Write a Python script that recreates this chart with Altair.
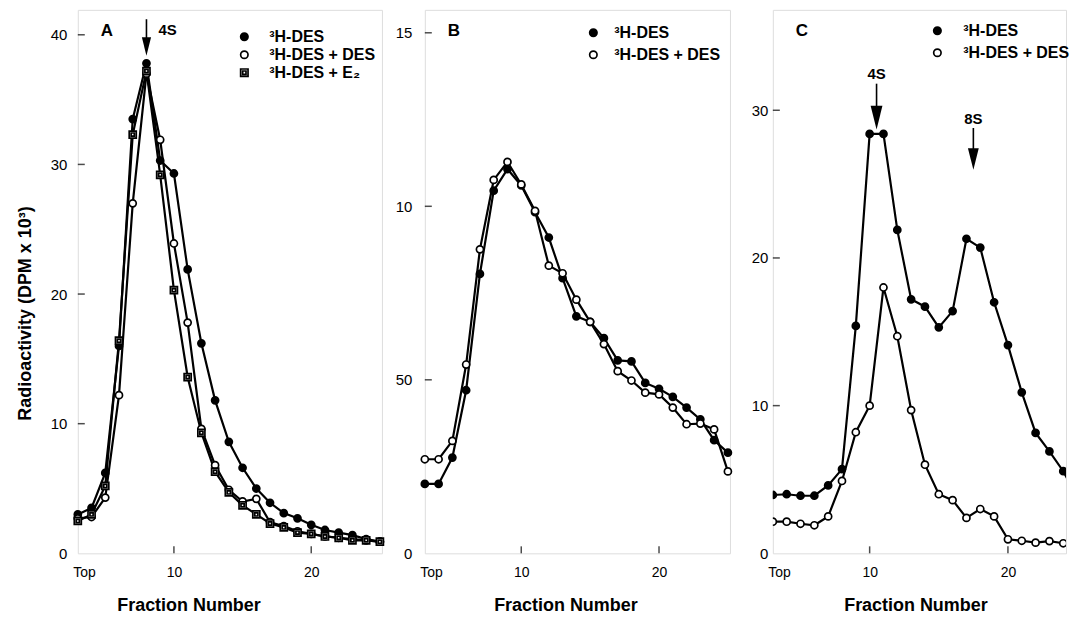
import altair as alt
import pandas as pd

FONT = "Liberation Sans"

fractions = list(range(3, 26))

a_des = [3.0, 3.5, 6.2, 16.0, 33.5, 37.8, 30.3, 29.3, 21.9, 16.2,
         11.8, 8.6, 6.6, 5.0, 3.9, 3.1, 2.7, 2.2, 1.8, 1.6, 1.4, 1.1, 0.9]
a_des_des = [2.7, 2.8, 4.3, 12.2, 27.0, 37.0, 31.9, 23.9, 17.8, 9.6,
             6.8, 4.9, 4.0, 4.2, 2.4, 2.1, 1.7, 1.5, 1.3, 1.2, 1.1, 1.0, 0.9]
a_des_e2 = [2.5, 3.0, 5.2, 16.4, 32.3, 37.2, 29.2, 20.3, 13.6, 9.3,
            6.3, 4.7, 3.7, 3.0, 2.3, 2.0, 1.6, 1.5, 1.3, 1.2, 1.0, 1.0, 0.9]

b_des = [2.0, 2.0, 2.76, 4.7, 8.05, 10.45, 11.07, 10.6, 9.83, 9.1,
         7.93, 6.83, 6.67, 6.2, 5.56, 5.53, 4.91, 4.74, 4.51, 4.2, 3.86, 3.26, 2.9]
b_des_des = [2.71, 2.71, 3.24, 5.44, 8.76, 10.76, 11.28, 10.63, 9.87, 8.29,
             8.07, 7.31, 6.67, 6.03, 5.25, 4.98, 4.63, 4.58, 4.2, 3.72, 3.74, 3.57, 2.36]

c_des = [3.95, 4.0, 3.9, 3.9, 4.6, 5.7, 15.4, 28.4, 28.4, 21.9,
         17.2, 16.7, 15.3, 16.4, 21.3, 20.7, 17.0, 14.1, 10.9, 8.15, 6.9, 5.56, 3.8]
c_des_des = [2.14, 2.14, 2.0, 1.9, 2.5, 4.9, 8.2, 10.0, 18.0, 14.7,
             9.7, 6.0, 4.0, 3.6, 2.4, 3.0, 2.5, 0.95, 0.85, 0.72, 0.83, 0.68, 0.68]

S1 = "³H-DES"
S2 = "³H-DES + DES"
S3 = "³H-DES + E₂"

x_ticks = [10, 20]
a_yticks = [0, 10, 20, 30, 40]
b_yticks = [0, 5, 10, 15]
c_yticks = [0, 10, 20, 30]

# arrows: fraction, shaft top, shaft end, head centre, head size, label, label y
a_arrows = {"fraction": [8], "top": [41.2], "end": [39.4], "head": [39.1], "hs": [340],
            "label": ["4S"], "ly": [40.0]}
c_arrows = {"fraction": [10.5, 17.5], "top": [31.8, 28.8], "end": [29.8, 26.9],
            "head": [29.5, 26.7], "hs": [560, 470], "label": ["4S", "8S"], "ly": [32.1, 29.1]}


def ring(r):
    return f"M{-r},0A{r},{r} 0 1,0 {r},0A{r},{r} 0 1,0 {-r},0Z"


HEAD = "M-0.5,-1L0.5,-1L0,1Z"
DOT = ring(1) + ring(0.55) + ring(0.15)        # solid-looking circle
OPEN = "circle"
BOX = "M-1,-1H1V1H-1Z M-0.45,-0.45H0.45V0.45H-0.45Z"   # heavy square
H = 545


def make_panel(letter, names, values, shapes, fills, px_per_unit, yticks, ylabel_expr,
               width, label_pad, y_title, title_x, leg_x, leg_y,
               leg_offset, leg_row_pad, arrows, arrow_dx, arrow_align, xmax, clip=False):
    rows = []
    for n, vals in zip(names, values):
        for f, v in zip(fractions, vals):
            rows.append({"fraction": f, "value": v, "series": n})
    df = pd.DataFrame(rows)

    xs = alt.Scale(domain=[3, xmax], nice=False, zero=False)
    ys = alt.Scale(domain=[0, H / px_per_unit], nice=False, zero=False)
    x_axis = alt.Axis(values=[3, 10, 20],
                      labelExpr="datum.value == 3 ? 'Top' : datum.label",
                      title="Fraction Number", ticks=False, domain=False, grid=False,
                      labelPadding=12, labelFontSize=14, labelFont=FONT, labelColor="black",
                      labelFlush=True, labelFlushOffset=5,
                      titleFontSize=18, titleFont=FONT, titleFontWeight="bold",
                      titleColor="black", titleX=title_x, titleY=57,
                      titleBaseline="alphabetic")
    y_kwargs = dict(values=yticks, ticks=False, domain=False, grid=False,
                    labelPadding=label_pad, labelFontSize=15, labelFont=FONT,
                    labelColor="black", labelFlush=False)
    if ylabel_expr:
        y_kwargs["labelExpr"] = ylabel_expr
    if y_title:
        y_kwargs.update(title=y_title, titleFontSize=18, titleFont=FONT,
                        titleFontWeight="bold", titleColor="black", titlePadding=16,
                        titleY=304)
    else:
        y_kwargs["title"] = None
    y_axis = alt.Axis(**y_kwargs)

    X = alt.X("fraction:Q", scale=xs, axis=x_axis)
    Y = alt.Y("value:Q", scale=ys, axis=y_axis)

    leg = alt.Legend(orient="none", legendX=leg_x, legendY=leg_y, title=None,
                     labelFont=FONT, labelFontSize=16, labelFontWeight="bold",
                     labelColor="black", symbolSize=55, symbolStrokeWidth=1.7,
                     symbolFillColor="white", labelOffset=leg_offset,
                     rowPadding=leg_row_pad, padding=0, labelLimit=300)

    lines = alt.Chart(df).mark_line(color="black", strokeWidth=2.2, clip=clip).encode(
        x=X, y=Y, detail="series:N")
    points = alt.Chart(df).mark_point(filled=False, color="black", strokeWidth=1.7,
                                      size=50, opacity=1, clip=clip).encode(
        x=X, y=Y,
        shape=alt.Shape("series:N", scale=alt.Scale(domain=names, range=shapes), legend=leg),
        fill=alt.Fill("series:N", scale=alt.Scale(domain=names, range=fills), legend=None),
    )

    xt = pd.DataFrame({"fraction": x_ticks, "value": [0] * len(x_ticks)})
    xtick_layer = alt.Chart(xt).mark_tick(orient="vertical", color="black", thickness=1.5,
                                          size=7, yOffset=-3.5).encode(x=X, y=Y)
    yt = pd.DataFrame({"fraction": [3] * (len(yticks) - 1), "value": yticks[1:]})
    ytick_layer = alt.Chart(yt).mark_tick(orient="horizontal", color="black", thickness=1.5,
                                          size=7, xOffset=3.5).encode(x=X, y=Y)

    letter_layer = alt.Chart(pd.DataFrame({"t": [letter]})).mark_text(
        fontSize=17, fontWeight="bold", font=FONT, align="left", baseline="alphabetic",
        color="black").encode(x=alt.value(23), y=alt.value(26), text="t:N")

    layers = [lines, points, xtick_layer, ytick_layer, letter_layer]

    if arrows:
        adf = pd.DataFrame(arrows)
        shaft = alt.Chart(adf).mark_rule(color="black", strokeWidth=1.6).encode(
            x=alt.X("fraction:Q", scale=xs, axis=x_axis),
            y=alt.Y("top:Q", scale=ys, axis=y_axis), y2="end:Q")
        head = alt.Chart(adf).mark_point(shape=HEAD, filled=True, color="black",
                                         opacity=1).encode(
            x=alt.X("fraction:Q", scale=xs, axis=x_axis),
            y=alt.Y("head:Q", scale=ys, axis=y_axis),
            size=alt.Size("hs:Q", scale=None))
        lab = alt.Chart(adf).mark_text(fontSize=15, fontWeight="bold", font=FONT,
                                       align=arrow_align, baseline="alphabetic",
                                       dx=arrow_dx, color="black").encode(
            x=alt.X("fraction:Q", scale=xs, axis=x_axis),
            y=alt.Y("ly:Q", scale=ys, axis=y_axis), text="label:N")
        layers += [shaft, head, lab]

    return alt.layer(*layers).properties(width=width, height=H).resolve_scale(
        shape="independent", fill="independent")


panel_a = make_panel("A", [S1, S2, S3], [a_des, a_des_des, a_des_e2],
                     [DOT, OPEN, BOX], ["black", "white", "white"],
                     13.0, a_yticks, None, 305, 11,
                     "Radioactivity (DPM x 10³)", 111, 159, 19, 17, 2,
                     a_arrows, 12, "left", 25.15)
panel_b = make_panel("B", [S1, S2], [b_des, b_des_des],
                     [DOT, OPEN], ["black", "white"],
                     34.8, b_yticks, "datum.value == 5 ? '50' : datum.label",
                     306, 13, None, 141, 161, 15, 13, 6, None, 0, "center", 25.15)
panel_c = make_panel("C", [S1, S2], [c_des, c_des_des],
                     [DOT, OPEN], ["black", "white"],
                     14.81, c_yticks, None, 294, 5, None, 143, 157, 13,
                     18, 6, c_arrows, 0, "center", 24.2, clip=True)

chart = alt.hconcat(panel_a, panel_b, panel_c, spacing=43, bounds="flush").resolve_scale(
    x="independent", y="independent", shape="independent", fill="independent"
).resolve_legend(shape="independent", fill="independent").properties(
    padding={"left": 7, "top": 0, "right": 0, "bottom": 0}
).configure_view(stroke="black", strokeWidth=2).configure(font=FONT)

chart.save("out.html", embed_options={"renderer": "svg", "actions": False})
